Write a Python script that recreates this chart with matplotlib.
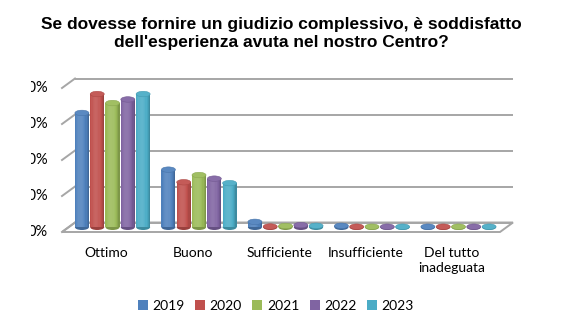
import numpy as np
import matplotlib
matplotlib.use("Agg")
import matplotlib.pyplot as plt
from matplotlib.patches import Ellipse, Polygon, Rectangle, Patch
from matplotlib.colors import to_rgb

# ---------------------------------------------------------------------------
# Data (percentages)
# ---------------------------------------------------------------------------
TITLE = ("Se dovesse fornire un giudizio complessivo, è soddisfatto\n"
         "dell'esperienza avuta nel nostro Centro?")
categories = ["Ottimo", "Buono", "Sufficiente", "Insufficiente", "Del tutto\ninadeguata"]
years = ["2019", "2020", "2021", "2022", "2023"]
v2019 = [63.5, 32.0, 3.0, 0.8, 0.3]
v2020 = [74.0, 25.0, 0.4, 0.3, 0.3]
v2021 = [69.0, 29.0, 0.7, 0.3, 0.3]
v2022 = [71.0, 27.0, 1.2, 0.3, 0.3]
v2023 = [74.0, 24.5, 0.8, 0.3, 0.3]
series = [v2019, v2020, v2021, v2022, v2023]
colors = ["#4F81BD", "#C0504D", "#9BBB59", "#8064A2", "#4BACC6"]
yticks = [0, 20, 40, 60, 80]
ytick_labels = ["0%", "20%", "40%", "60%", "80%"]

# ---------------------------------------------------------------------------
# Layout helpers (pixel based, figure is 565 x 330)
# ---------------------------------------------------------------------------
W, H = 565, 330
PX_X = 86.5          # pixels per category
PX_Y = 1.8           # pixels per percent
BDX, BDY = 13 / PX_X, 9.5 / PX_Y      # depth offset front -> back wall
MDX, MDY = BDX / 2, BDY / 2           # bars sit in the middle of the depth
GRID = "#a6a6a6"


def lighten(c, a):
    c = np.array(to_rgb(c))
    return tuple(c + (1 - c) * a)


def darken(c, a):
    c = np.array(to_rgb(c))
    return tuple(c * (1 - a))


fig = plt.figure(figsize=(W / 100, H / 100), dpi=100)
ax = fig.add_axes([62 / W, 98 / H, 438 / W, 144 / H])
x0, x1 = -0.509, 4.555
ax.set_xlim(x0, x1)
ax.set_ylim(0, 80)
ax.axis("off")

# floor
floor = Polygon([(x0, 0), (x1, 0), (x1 + BDX, BDY), (x0 + BDX, BDY)], closed=True,
                facecolor="white", edgecolor=GRID, lw=1.4, clip_on=False, zorder=1)
ax.add_patch(floor)

# back-wall gridlines + left-wall slants
for v, lab in zip(yticks, ytick_labels):
    ax.plot([x0 + BDX, x1 + BDX], [v + BDY, v + BDY], color=GRID, lw=1.4,
            clip_on=False, zorder=1, solid_capstyle="butt")
    ax.plot([x0, x0 + BDX], [v, v + BDY], color=GRID, lw=1.4, clip_on=False, zorder=1)
    ax.text(x0 - 14 / PX_X, v, lab, ha="right", va="center", fontsize=10.5,
            family="Lato", clip_on=False)

# cylinders
x = np.arange(len(categories))
step = 15.3 / PX_X
bw = 14 / PX_X
cap_h = 5.5 / PX_Y
nstrip = 12
for k, (vals, col) in enumerate(zip(series, colors)):
    xc = x + (k - 2) * step + MDX
    for xi, val in zip(xc, vals):
        z = 3 + k * 0.01
        ax.add_patch(Ellipse((xi, MDY), bw, cap_h, facecolor=darken(col, 0.2),
                             edgecolor="none", zorder=z, clip_on=False))
        for s in range(nstrip):
            t = (s + 0.5) / nstrip
            f = 0.12 - 1.0 * (t - 0.4) ** 2
            c = lighten(col, f) if f > 0 else darken(col, -f)
            ax.bar(xi - bw / 2 + t * bw, val, width=bw / nstrip * 1.05, bottom=MDY,
                   color=c, linewidth=0, zorder=z, clip_on=False)
        ax.add_patch(Ellipse((xi, val + MDY), bw, cap_h, facecolor=lighten(col, 0.06),
                             edgecolor=darken(col, 0.1), lw=0.4, zorder=z + 0.001,
                             clip_on=False))

# category labels
for xi, lab in zip(x, categories):
    ax.text(xi, -8.6, lab, ha="center", va="top", fontsize=10, family="Lato",
            linespacing=1.3, clip_on=False)

# title
fig.text(281 / W, 1 - 33.5 / H, TITLE, ha="center", va="center", fontsize=12.5,
         fontweight="bold", family="Liberation Sans", linespacing=1.32)

# legend
handles = [Patch(facecolor=c, edgecolor="none") for c in colors]
fig.legend(handles, years, loc="center", bbox_to_anchor=(276 / W, 1 - 306 / H),
           ncol=5, frameon=False, handlelength=0.7, handleheight=0.7,
           handletextpad=0.35, columnspacing=0.75, prop={"family": "Lato", "size": 10})

# the source image is cropped on the left edge, hiding part of the tick labels
fig.add_artist(Rectangle((0, 0), 31 / W, 1, transform=fig.transFigure,
                         facecolor="white", edgecolor="none", zorder=10))

fig.savefig("out.png", dpi=100)
